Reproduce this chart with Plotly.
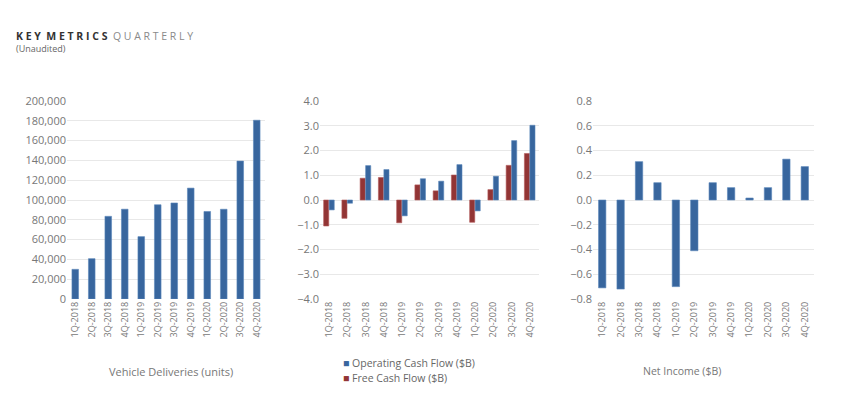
import plotly.graph_objects as go

quarters = ["1Q-2018", "2Q-2018", "3Q-2018", "4Q-2018", "1Q-2019", "2Q-2019",
            "3Q-2019", "4Q-2019", "1Q-2020", "2Q-2020", "3Q-2020", "4Q-2020"]
deliveries = [29980, 40740, 83500, 90700, 63000, 95200, 97000, 112000, 88400, 90650, 139300, 180570]
operating_cf = [-0.40, -0.13, 1.39, 1.23, -0.64, 0.86, 0.76, 1.43, -0.44, 0.96, 2.40, 3.02]
free_cf = [-1.05, -0.74, 0.88, 0.91, -0.92, 0.61, 0.37, 1.01, -0.90, 0.42, 1.40, 1.88]
net_income = [-0.71, -0.72, 0.31, 0.14, -0.70, -0.41, 0.14, 0.10, 0.016, 0.10, 0.33, 0.27]

W, H = 841, 399
OFF = 8  # page body margin offset
BLUE = "#38669e"
RED = "#923535"
FONT = "Open Sans"
GRID = "#e8e8e8"
TICK = dict(family=FONT, size=11, color="#777777")
XTICK = dict(family=FONT, size=9, color="#777777")

def fx(x):
    return (x - OFF) / W

def fy(y):
    return 1 - (y - OFF) / H

ydom = [fy(299), fy(101)]

fig = go.Figure()

fig.add_trace(go.Bar(x=quarters, y=deliveries, xaxis="x", yaxis="y", width=0.4,
                     marker=dict(color=BLUE, line=dict(width=0.6, color="#5b86bb")),
                     showlegend=False))
fig.add_trace(go.Bar(x=quarters, y=free_cf, xaxis="x2", yaxis="y2", width=0.28, offset=-0.3,
                     name="Free Cash Flow ($B)", showlegend=False,
                     marker=dict(color=RED, line=dict(width=0.6, color="#b45a5a"))))
fig.add_trace(go.Bar(x=quarters, y=operating_cf, xaxis="x2", yaxis="y2", width=0.28, offset=0.0,
                     name="Operating Cash Flow ($B)", showlegend=False,
                     marker=dict(color=BLUE, line=dict(width=0.6, color="#5b86bb"))))
fig.add_trace(go.Bar(x=quarters, y=net_income, xaxis="x3", yaxis="y3", width=0.4,
                     marker=dict(color=BLUE, line=dict(width=0.6, color="#5b86bb")),
                     showlegend=False))

xcommon = dict(type="category", tickangle=-90, tickfont=XTICK, showgrid=False,
               showline=False, zeroline=False, ticks="", range=[-0.5, 11.5], automargin=False)
ycommon = dict(tickfont=TICK, showgrid=True, gridcolor=GRID, gridwidth=1, showline=False,
               ticks="", domain=ydom, automargin=False)

fig.update_layout(
    width=W, height=H,
    margin=dict(l=0, r=0, t=0, b=0),
    paper_bgcolor="white", plot_bgcolor="white",
    barmode="overlay",
    font=dict(family=FONT, color="#777777"),
    xaxis=dict(domain=[fx(67), fx(265)], anchor="y", **xcommon),
    yaxis=dict(anchor="x", range=[0, 200000], dtick=20000, tickformat=",d",
               zeroline=False, **ycommon),
    xaxis2=dict(domain=[fx(320), fx(539)], anchor="y2", **xcommon),
    yaxis2=dict(anchor="x2", range=[-4, 4], dtick=1, tickformat=".1f",
                zeroline=True, zerolinecolor=GRID, zerolinewidth=1, **ycommon),
    xaxis3=dict(domain=[fx(593), fx(814)], anchor="y3", **xcommon),
    yaxis3=dict(anchor="x3", range=[-0.8, 0.8], dtick=0.2, tickformat=".1f",
                zeroline=True, zerolinecolor=GRID, zerolinewidth=1, **ycommon),
    showlegend=False,
)

ann = []
ann.append(dict(x=fx(14), y=fy(27), xref="paper", yref="paper", xanchor="left", yanchor="top",
                showarrow=False, align="left",
                text="<span style='font-size:10.5px;color:#333333'><b>K E Y  M E T R I C S</b></span>"
                     "<span style='font-size:10.5px;color:#8a8a8a'>  Q U A R T E R L Y</span><br>"
                     "<span style='font-size:9px;color:#666666'>(Unaudited)</span>",
                font=dict(family=FONT, size=9.5)))
ann.append(dict(x=fx(171), y=fy(371), xref="paper", yref="paper", xanchor="center", yanchor="middle",
                showarrow=False, text="Vehicle Deliveries (units)",
                font=dict(family=FONT, size=11, color="#777777")))
ann.append(dict(x=fx(682), y=fy(371), xref="paper", yref="paper", xanchor="center", yanchor="middle",
                showarrow=False, text="Net Income ($B)",
                font=dict(family=FONT, size=10.5, color="#777777")))
# legend entries
ann.append(dict(x=fx(341), y=fy(363), xref="paper", yref="paper", xanchor="left", yanchor="middle",
                showarrow=False,
                text=f"<span style='color:{BLUE}'>■</span> Operating Cash Flow ($B)",
                font=dict(family=FONT, size=10.5, color="#666666")))
ann.append(dict(x=fx(341), y=fy(377.5), xref="paper", yref="paper", xanchor="left", yanchor="middle",
                showarrow=False,
                text=f"<span style='color:{RED}'>■</span> Free Cash Flow ($B)",
                font=dict(family=FONT, size=10.5, color="#666666")))
fig.update_layout(annotations=ann)

fig.write_html("out.html")
